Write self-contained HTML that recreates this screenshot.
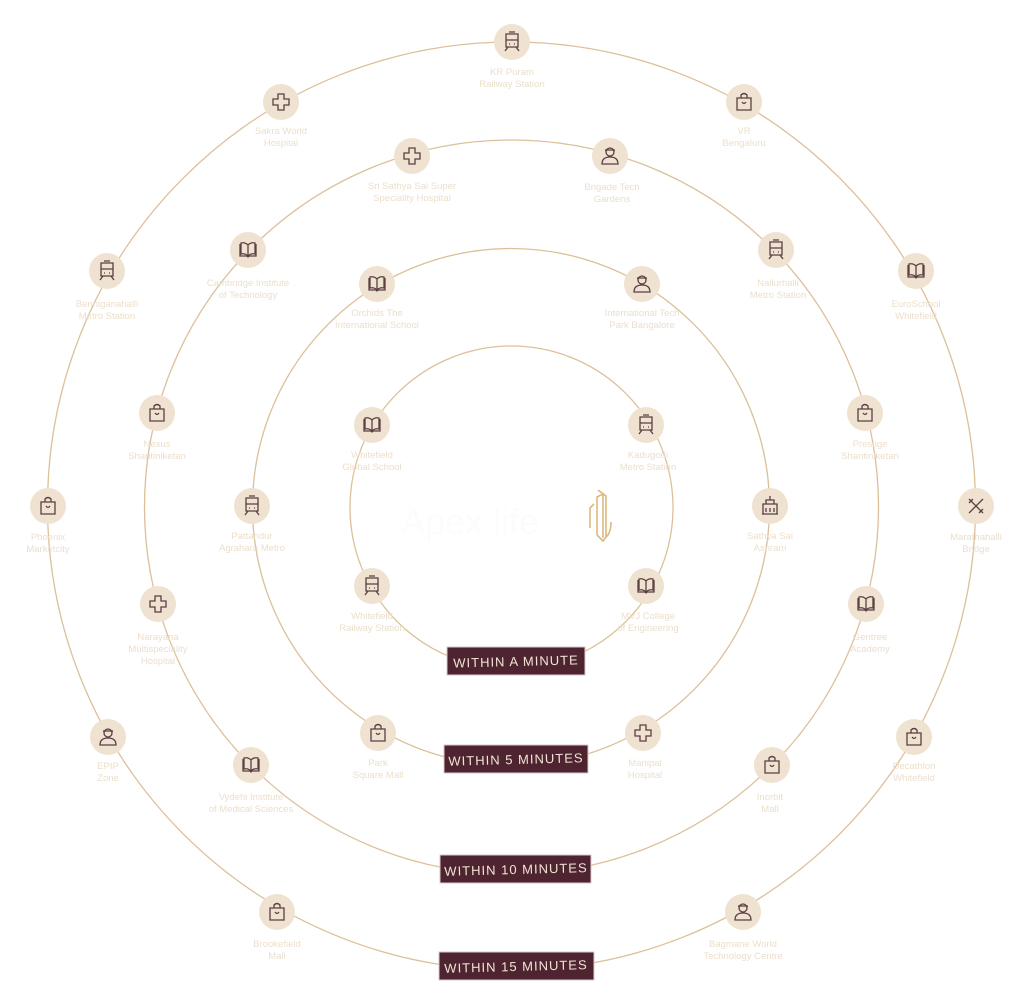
<!DOCTYPE html>
<html><head><meta charset="utf-8"><style>
html,body{margin:0;padding:0;background:#fff;}
svg{display:block}
.l{font-family:"Liberation Sans",sans-serif;font-size:9.5px;fill:#ecdfcc;text-anchor:middle}
.n{fill:#efe2d0}
.i{fill:none;stroke:#5b3f43;stroke-width:1.3}
.b{fill:#4e2430;stroke:#d9c9cc;stroke-width:1}
.bt{font-family:"Liberation Sans",sans-serif;font-size:13px;fill:#f2e3d6;text-anchor:middle;letter-spacing:1px}
</style></head><body>
<svg width="1024" height="997" viewBox="0 0 1024 997" xmlns="http://www.w3.org/2000/svg">
<g fill="none" stroke="#dcc09a" stroke-width="1.3">
<circle cx="511.5" cy="507.5" r="161.5"/>
<circle cx="511" cy="507" r="258.5"/>
<circle cx="511.5" cy="507" r="367"/>
<circle cx="511.5" cy="506" r="464"/>
</g>
<!-- logo -->
<g fill="none" stroke="#ddb77e" stroke-width="1.6">
<path d="M590 528 V508 L594 504"/>
<path d="M597 535 V497 L603 494 V538"/>
<path d="M598 490 L606 496 V537 Q611 533 611 522"/>
<path d="M597 535 L603 541 L606 537"/>
</g>
<text x="470" y="534" font-family="Liberation Sans,sans-serif" font-size="36" fill="#fcfcfc" text-anchor="middle">Apex life</text>

<defs>
<g id="book"><path class="i" d="M-8 -6 V6 H-1 L0 7 L1 6 H8 V-6 M-7 -7 Q-3 -8 0 -5 Q3 -8 7 -7 V4 Q3 3 0 6 Q-3 3 -7 4 Z M0 -5 V6"/></g>
<g id="cross"><path class="i" d="M-3 -8 H3 V-3 H8 V3 H3 V8 H-3 V3 H-8 V-3 H-3 Z"/></g>
<g id="bag"><path class="i" d="M-7 -4 H7 V8 H-7 Z M-3 -4 V-7 Q0 -10 3 -7 V-4 M-2 0 Q0 3 2 0"/></g>
<g id="train"><path class="i" d="M-6 -8 H6 V5 H-6 Z M-6 -2 H6 M-4 5 L-7 9 M4 5 L7 9 M-3 2 H-2 M2 2 H3 M-3 -10 H3"/></g>
<g id="person"><path class="i" d="M-4 -4 A4 4 0 1 0 4 -4 A4 4 0 1 0 -4 -4 M-5 -6 H5 M-8 8 Q-8 1 0 1 Q8 1 8 8 Z"/></g>
<g id="bldg"><path class="i" d="M-8 8 H8 M-7 8 V-2 H7 V8 M-4 -2 V-6 H4 V-2 M0 -6 V-10 M-4 2 V6 M0 2 V6 M4 2 V6"/></g>
<g id="x"><path class="i" d="M-7 -7 L7 7 M7 -7 L-7 7 M-3 -7 L-7 -3 M3 7 L7 3"/></g>
</defs>

<g id="nodes">
<circle class="n" cx="512" cy="42" r="18"/><use href="#train" x="512" y="42"/>
<text class="l" x="512" y="75">KR Puram</text><text class="l" x="512" y="87">Railway Station</text>
<circle class="n" cx="281" cy="102" r="18"/><use href="#cross" x="281" y="102"/>
<text class="l" x="281" y="134">Sakra World</text><text class="l" x="281" y="146">Hospital</text>
<circle class="n" cx="744" cy="102" r="18"/><use href="#bag" x="744" y="102"/>
<text class="l" x="744" y="134">VR</text><text class="l" x="744" y="146">Bengaluru</text>
<circle class="n" cx="107" cy="271" r="18"/><use href="#train" x="107" y="271"/>
<text class="l" x="107" y="307">Benniganahalli</text><text class="l" x="107" y="319">Metro Station</text>
<circle class="n" cx="916" cy="271" r="18"/><use href="#book" x="916" y="271"/>
<text class="l" x="916" y="307">EuroSchool</text><text class="l" x="916" y="319">Whitefield</text>
<circle class="n" cx="48" cy="506" r="18"/><use href="#bag" x="48" y="506"/>
<text class="l" x="48" y="540">Phoenix</text><text class="l" x="48" y="552">Marketcity</text>
<circle class="n" cx="976" cy="506" r="18"/><use href="#x" x="976" y="506"/>
<text class="l" x="976" y="540">Marathahalli</text><text class="l" x="976" y="552">Bridge</text>
<circle class="n" cx="108" cy="737" r="18"/><use href="#person" x="108" y="737"/>
<text class="l" x="108" y="769">EPIP</text><text class="l" x="108" y="781">Zone</text>
<circle class="n" cx="914" cy="737" r="18"/><use href="#bag" x="914" y="737"/>
<text class="l" x="914" y="769">Decathlon</text><text class="l" x="914" y="781">Whitefield</text>
<circle class="n" cx="277" cy="912" r="18"/><use href="#bag" x="277" y="912"/>
<text class="l" x="277" y="947">Brookefield</text><text class="l" x="277" y="959">Mall</text>
<circle class="n" cx="743" cy="912" r="18"/><use href="#person" x="743" y="912"/>
<text class="l" x="743" y="947">Bagmane World</text><text class="l" x="743" y="959">Technology Centre</text>
<circle class="n" cx="412" cy="156" r="18"/><use href="#cross" x="412" y="156"/>
<text class="l" x="412" y="189">Sri Sathya Sai Super</text><text class="l" x="412" y="201">Speciality Hospital</text>
<circle class="n" cx="610" cy="156" r="18"/><use href="#person" x="610" y="156"/>
<text class="l" x="612" y="190">Brigade Tech</text><text class="l" x="612" y="202">Gardens</text>
<circle class="n" cx="248" cy="250" r="18"/><use href="#book" x="248" y="250"/>
<text class="l" x="248" y="286">Cambridge Institute</text><text class="l" x="248" y="298">of Technology</text>
<circle class="n" cx="776" cy="250" r="18"/><use href="#train" x="776" y="250"/>
<text class="l" x="778" y="286">Nallurhalli</text><text class="l" x="778" y="298">Metro Station</text>
<circle class="n" cx="157" cy="413" r="18"/><use href="#bag" x="157" y="413"/>
<text class="l" x="157" y="447">Nexus</text><text class="l" x="157" y="459">Shantiniketan</text>
<circle class="n" cx="865" cy="413" r="18"/><use href="#bag" x="865" y="413"/>
<text class="l" x="870" y="447">Prestige</text><text class="l" x="870" y="459">Shantiniketan</text>
<circle class="n" cx="158" cy="604" r="18"/><use href="#cross" x="158" y="604"/>
<text class="l" x="158" y="640">Narayana</text><text class="l" x="158" y="652">Multispeciality</text><text class="l" x="158" y="664">Hospital</text>
<circle class="n" cx="866" cy="604" r="18"/><use href="#book" x="866" y="604"/>
<text class="l" x="870" y="640">Gentree</text><text class="l" x="870" y="652">Academy</text>
<circle class="n" cx="251" cy="765" r="18"/><use href="#book" x="251" y="765"/>
<text class="l" x="251" y="800">Vydehi Institute</text><text class="l" x="251" y="812">of Medical Sciences</text>
<circle class="n" cx="772" cy="765" r="18"/><use href="#bag" x="772" y="765"/>
<text class="l" x="770" y="800">Inorbit</text><text class="l" x="770" y="812">Mall</text>
<circle class="n" cx="377" cy="284" r="18"/><use href="#book" x="377" y="284"/>
<text class="l" x="377" y="316">Orchids The</text><text class="l" x="377" y="328">International School</text>
<circle class="n" cx="642" cy="284" r="18"/><use href="#person" x="642" y="284"/>
<text class="l" x="642" y="316">International Tech</text><text class="l" x="642" y="328">Park Bangalore</text>
<circle class="n" cx="252" cy="506" r="18"/><use href="#train" x="252" y="506"/>
<text class="l" x="252" y="539">Pattandur</text><text class="l" x="252" y="551">Agrahara Metro</text>
<circle class="n" cx="770" cy="506" r="18"/><use href="#bldg" x="770" y="506"/>
<text class="l" x="770" y="539">Sathya Sai</text><text class="l" x="770" y="551">Ashram</text>
<circle class="n" cx="378" cy="733" r="18"/><use href="#bag" x="378" y="733"/>
<text class="l" x="378" y="766">Park</text><text class="l" x="378" y="778">Square Mall</text>
<circle class="n" cx="643" cy="733" r="18"/><use href="#cross" x="643" y="733"/>
<text class="l" x="645" y="766">Manipal</text><text class="l" x="645" y="778">Hospital</text>
<circle class="n" cx="372" cy="425" r="18"/><use href="#book" x="372" y="425"/>
<text class="l" x="372" y="458">Whitefield</text><text class="l" x="372" y="470">Global School</text>
<circle class="n" cx="646" cy="425" r="18"/><use href="#train" x="646" y="425"/>
<text class="l" x="648" y="458">Kadugodi</text><text class="l" x="648" y="470">Metro Station</text>
<circle class="n" cx="372" cy="586" r="18"/><use href="#train" x="372" y="586"/>
<text class="l" x="372" y="619">Whitefield</text><text class="l" x="372" y="631">Railway Station</text>
<circle class="n" cx="646" cy="586" r="18"/><use href="#book" x="646" y="586"/>
<text class="l" x="648" y="619">MVJ College</text><text class="l" x="648" y="631">of Engineering</text>
</g>

<rect class="b" x="447" y="647" width="138" height="28"/>
<text class="bt" x="516" y="666" transform="rotate(-1.5 516 662)">WITHIN A MINUTE</text>
<rect class="b" x="444" y="745" width="144" height="28"/>
<text class="bt" x="516" y="764" transform="rotate(-1.5 516 760)">WITHIN 5 MINUTES</text>
<rect class="b" x="440" y="855" width="151" height="28"/>
<text class="bt" x="516" y="874" transform="rotate(-1.5 516 870)">WITHIN 10 MINUTES</text>
<rect class="b" x="439" y="952" width="155" height="28"/>
<text class="bt" x="516" y="971" transform="rotate(-1.5 516 967)">WITHIN 15 MINUTES</text>
</svg>
</body></html>
